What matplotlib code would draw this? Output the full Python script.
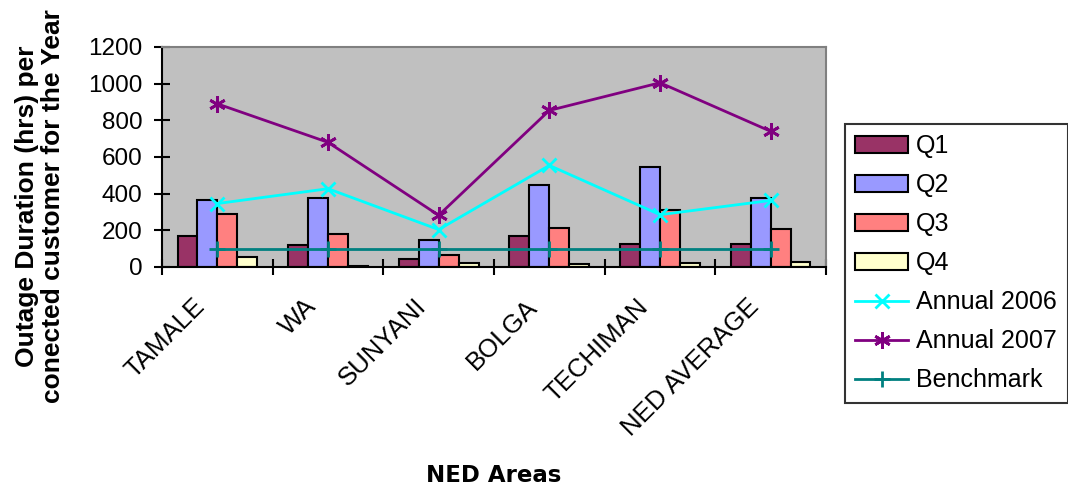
import matplotlib.pyplot as plt
import matplotlib.transforms as mtransforms
import numpy as np

plt.rcParams['font.family'] = ['Liberation Sans', 'DejaVu Sans']

areas = ['TAMALE', 'WA', 'SUNYANI', 'BOLGA', 'TECHIMAN', 'NED AVERAGE']
q1 = [169, 118, 44, 171, 127, 125]
q2 = [367, 376, 145, 449, 545, 378]
q3 = [291, 178, 67, 211, 309, 209]
q4 = [57, 8, 20, 18, 22, 27]
annual_2006 = [346, 427, 204, 554, 285, 363]
annual_2007 = [890, 680, 282, 854, 1005, 740]
benchmark = [100, 100, 100, 100, 100, 100]

fig = plt.figure(figsize=(10.68, 4.88), dpi=100)
ax = fig.add_axes([0.1517, 0.4529, 0.6217, 0.4508])
ax.set_facecolor('#C0C0C0')

x = np.arange(len(areas))
w = 0.18
bar_colors = ['#993366', '#9999FF', '#FF8080', '#FFFFCC']
handles = []
for i, (vals, lab, col) in enumerate(zip([q1, q2, q3, q4], ['Q1', 'Q2', 'Q3', 'Q4'], bar_colors)):
    b = ax.bar(x + (i - 1.5) * w, vals, w, color=col, edgecolor='black', linewidth=1.5, label=lab, zorder=2)
    handles.append(b)

l1, = ax.plot(x, annual_2006, color='#00FFFF', lw=2, marker='x', ms=10, mew=2, label='Annual 2006', zorder=3)
l2, = ax.plot(x, annual_2007, color='#800080', lw=2, marker=(6, 2, 0), ms=12, mew=2, label='Annual 2007', zorder=3)
l3, = ax.plot(x, benchmark, color='#008080', lw=2, marker='+', ms=12, mew=2, label='Benchmark', zorder=3)
handles += [l1, l2, l3]

ax.set_xlim(-0.5, len(areas) - 0.5)
ax.set_ylim(0, 1200)
ax.set_yticks(range(0, 1201, 200))
# ticks between categories, labels placed by hand below
ax.set_xticks(np.arange(-0.5, len(areas)))
ax.set_xticklabels([])
ax.tick_params(axis='x', direction='inout', length=12, width=1.5)
ax.tick_params(axis='y', direction='inout', length=12, width=1.5, labelsize=17.5, pad=8)

lab_trans = ax.get_xaxis_transform() + mtransforms.ScaledTranslation(-0.16, -0.36, fig.dpi_scale_trans)
for xi, name in zip(x, areas):
    ax.text(xi, 0, name, transform=lab_trans, rotation=45, ha='right', va='center',
            rotation_mode='anchor', fontsize=18.5)

for s in ['top', 'right']:
    ax.spines[s].set_color('#808080')
    ax.spines[s].set_linewidth(1.5)
for s in ['left', 'bottom']:
    ax.spines[s].set_linewidth(1.5)

fig.text(0.0375, 0.578, 'Outage Duration (hrs) per\nconected customer for the Year', rotation=90,
         ha='center', va='center', multialignment='center', fontsize=19, fontweight='bold',
         linespacing=1.15)
fig.text(0.4625, 0.025, 'NED Areas', ha='center', va='center', fontsize=16.5, fontweight='bold',
         family='DejaVu Sans')

leg = fig.legend(handles=handles, loc='upper left', bbox_to_anchor=(0.791, 0.746), fontsize=18,
                 frameon=True, fancybox=False, edgecolor='black', labelspacing=0.6,
                 handlelength=2.12, handleheight=0.68, borderpad=0.42, handletextpad=0.32,
                 borderaxespad=0)
leg.get_frame().set_linewidth(1.5)

fig.savefig('out.png', dpi=100)
